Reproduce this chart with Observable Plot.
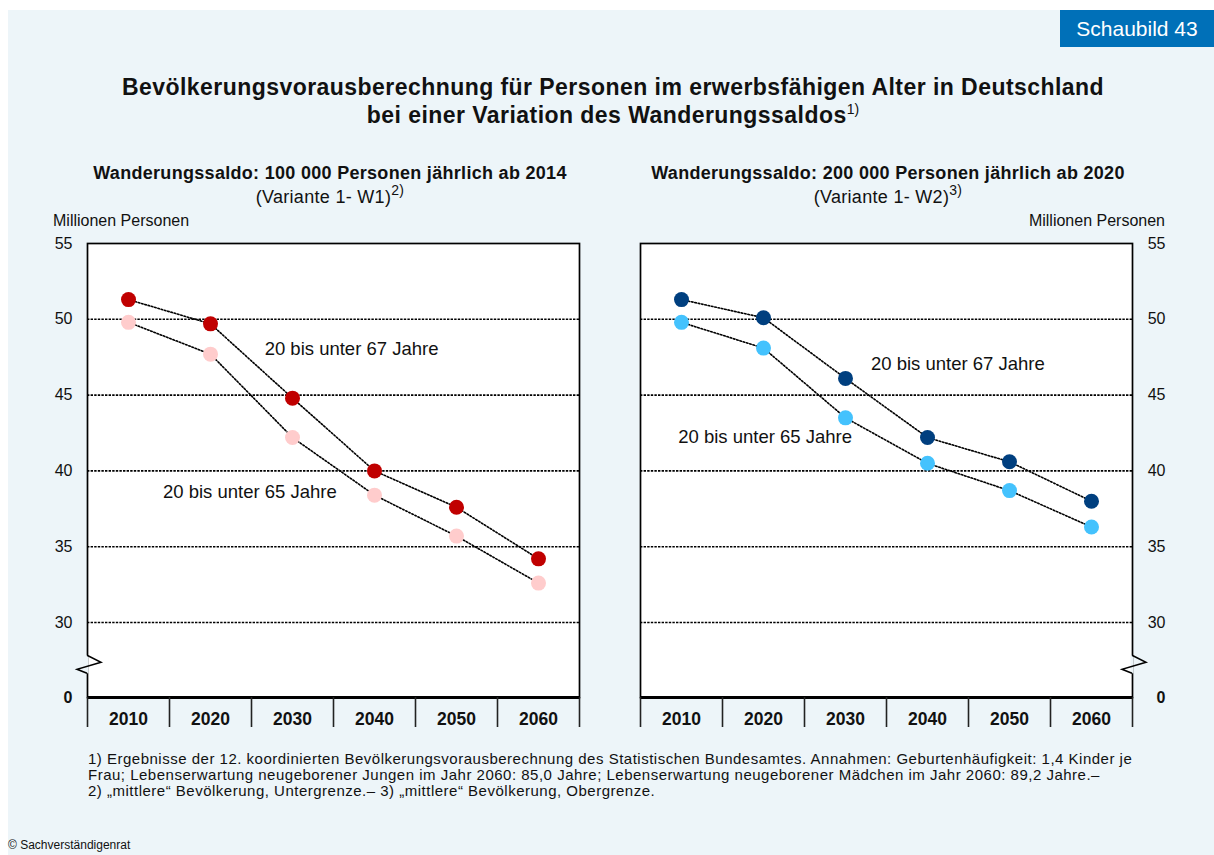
<!DOCTYPE html>
<html><head><meta charset="utf-8">
<script src="https://cdn.jsdelivr.net/npm/d3@7"></script>
<script src="https://cdn.jsdelivr.net/npm/@observablehq/plot@0.6"></script>
<style>
body{margin:0;background:#fff;font-family:"Liberation Sans",Arial,sans-serif;}
#page{position:relative;width:1214px;height:855px;overflow:hidden;background:#fff;}
#bg{position:absolute;left:8px;top:10px;right:0;bottom:0;background:#EDF5F9;}
.abs{position:absolute;white-space:nowrap;color:#111;}
sup{line-height:0;}
.plot{position:absolute;top:230px;}
</style></head><body>
<div id="page">
  <div id="bg"></div>
  <div class="abs" style="left:1060px;top:10px;width:154px;height:37px;background:#0070B8;color:#fff;font-size:21px;line-height:37px;text-align:center">Schaubild 43</div>
  <div class="abs" style="left:0;width:1226px;top:73px;text-align:center;font-weight:bold;font-size:23px;letter-spacing:0.45px;line-height:28px">Bevölkerungsvorausberechnung für Personen im erwerbsfähigen Alter in Deutschland<br>bei einer Variation des Wanderungssaldos<sup style="font-size:14px;font-weight:normal;letter-spacing:0;vertical-align:9px">1)</sup></div>
  <div class="abs" style="left:30px;width:600px;top:161px;text-align:center;font-size:18px;letter-spacing:0.3px;line-height:24px"><b>Wanderungssaldo: 100 000 Personen jährlich ab 2014</b><br>(Variante 1- W1)<sup style="font-size:14px;vertical-align:8px">2)</sup></div>
  <div class="abs" style="left:588px;width:600px;top:161px;text-align:center;font-size:18px;letter-spacing:0.3px;line-height:24px"><b>Wanderungssaldo: 200 000 Personen jährlich ab 2020</b><br>(Variante 1- W2)<sup style="font-size:14px;vertical-align:8px">3)</sup></div>
  <div class="abs" style="left:53px;top:212px;font-size:16px;line-height:18px">Millionen Personen</div>
  <div class="abs" style="right:49px;top:212px;font-size:16px;line-height:18px">Millionen Personen</div>
  <div id="left" class="plot" style="left:0"></div>
  <div id="right" class="plot" style="left:607px"></div>
  <div class="abs" style="left:88px;top:751px;font-size:15px;letter-spacing:0.5px;line-height:16px">1) Ergebnisse der 12. koordinierten Bevölkerungsvorausberechnung des Statistischen Bundesamtes. Annahmen: Geburtenhäufigkeit: 1,4 Kinder je<br>Frau; Lebenserwartung neugeborener Jungen im Jahr 2060: 85,0 Jahre; Lebenserwartung neugeborener Mädchen im Jahr 2060: 89,2 Jahre.–<br>2) „mittlere“ Bevölkerung, Untergrenze.– 3) „mittlere“ Bevölkerung, Obergrenze.</div>
  <div class="abs" style="left:8px;top:838px;font-size:12px;line-height:14px">© Sachverständigenrat</div>
</div>
<script>
// ---- data ----
const years = [2010, 2020, 2030, 2040, 2050, 2060];
const seriesNames = ["20 bis unter 67 Jahre", "20 bis unter 65 Jahre"];
// Variante 1-W1 (100 000 Personen jährlich ab 2014)
const w1_67 = [51.3, 49.7, 44.8, 40.0, 37.6, 34.2];
const w1_65 = [49.8, 47.7, 42.2, 38.4, 35.7, 32.6];
// Variante 1-W2 (200 000 Personen jährlich ab 2020)
const w2_67 = [51.3, 50.1, 46.1, 42.2, 40.6, 38.0];
const w2_65 = [49.8, 48.1, 43.5, 40.5, 38.7, 36.3];
const w1Colors = ["#C00000", "#FFCCCC"];
const w2Colors = ["#003F7F", "#44C2FD"];
const yTicks = [30, 35, 40, 45, 50, 55];
const yZeroTick = [0];
const gridValues = [30, 35, 40, 45, 50];
const breakValue = 13.5;
// label anchors (x in years, y in Mio.)
const w1Labels = [
  {text: "20 bis unter 67 Jahre", x: 2037.2, y: 48.05},
  {text: "20 bis unter 65 Jahre", x: 2024.8, y: 38.6}
];
const w2Labels = [
  {text: "20 bis unter 67 Jahre", x: 2043.7, y: 47.05},
  {text: "20 bis unter 65 Jahre", x: 2020.2, y: 42.2}
];

const BG = "#EDF5F9";
const FONT = '"Liberation Sans", Arial, sans-serif';
const sepTicks = years.map(y => y - 5).concat([years[years.length - 1] + 5]);

function breakMark(side) {
  return (index, scales, values, dims) => {
    const x0 = side === "left" ? dims.marginLeft : dims.width - dims.marginRight;
    const yc = scales.y(breakValue);
    const g = d3.create("svg:g");
    g.append("line").attr("x1", x0).attr("x2", x0).attr("y1", yc - 8).attr("y2", yc + 10)
      .attr("stroke", BG).attr("stroke-width", 3);
    g.append("path")
      .attr("d", `M${x0},${yc - 8}L${x0 + 14},${yc - 1}L${x0 - 10},${yc + 6}L${x0},${yc + 10}`)
      .attr("fill", "none").attr("stroke", "#000").attr("stroke-width", 1.5);
    return g.node();
  };
}

function panel(side, v67, v65, colors, labels) {
  const data = years.flatMap((yr, i) => [
    {year: yr, value: v67[i], series: seriesNames[0]},
    {year: yr, value: v65[i], series: seriesNames[1]}
  ]);
  const isLeft = side === "left";
  return Plot.plot({
    width: 607, height: 510,
    marginLeft: isLeft ? 87 : 33, marginRight: isLeft ? 28 : 82,
    marginTop: 13, marginBottom: 43,
    style: {fontFamily: FONT, background: "transparent", color: "#111", overflow: "visible"},
    x: {type: "linear", domain: [2005, 2065], label: null},
    y: {type: "linear", domain: [0, 30, 55], range: [467, 392, 13], label: null},
    color: {domain: seriesNames, range: colors},
    marks: [
      Plot.frame({fill: "white", stroke: "none"}),
      Plot.ruleY(gridValues, {stroke: "#000", strokeWidth: 1.6, strokeDasharray: "2.4,1.2"}),
      Plot.frame({stroke: "#000", strokeWidth: 1.7}),
      breakMark(side),
      Plot.ruleY(yZeroTick, {stroke: "#000", strokeWidth: 2.8}),
      Plot.axisX({ticks: sepTicks, tickSize: 30, tickFormat: () => "", stroke: "#222", strokeWidth: 1.6}),
      Plot.axisX({ticks: years, tickSize: 0, tickPadding: 15, tickFormat: d => String(d), fontSize: 17.5, fontWeight: "bold", fill: "#111"}),
      Plot.axisY({anchor: side, ticks: yTicks, tickSize: 0, tickPadding: isLeft ? 15 : 33, textAnchor: "end", fontSize: 16, fill: "#111"}),
      Plot.axisY({anchor: side, ticks: yZeroTick, tickSize: 0, tickPadding: isLeft ? 15 : 33, textAnchor: "end", fontSize: 16, fontWeight: "bold", fill: "#111"}),
      Plot.line(data, {x: "year", y: "value", z: "series", stroke: "#000", strokeWidth: 1.6, strokeDasharray: "1.6,1.8"}),
      Plot.dot(data, {x: "year", y: "value", r: 7.5, fill: "series"}),
      Plot.text(labels, {x: "x", y: "y", text: "text", fontSize: 18.5, fill: "#111"})
    ]
  });
}

document.getElementById("left").append(panel("left", w1_67, w1_65, w1Colors, w1Labels));
document.getElementById("right").append(panel("right", w2_67, w2_65, w2Colors, w2Labels));
</script>
</body></html>
